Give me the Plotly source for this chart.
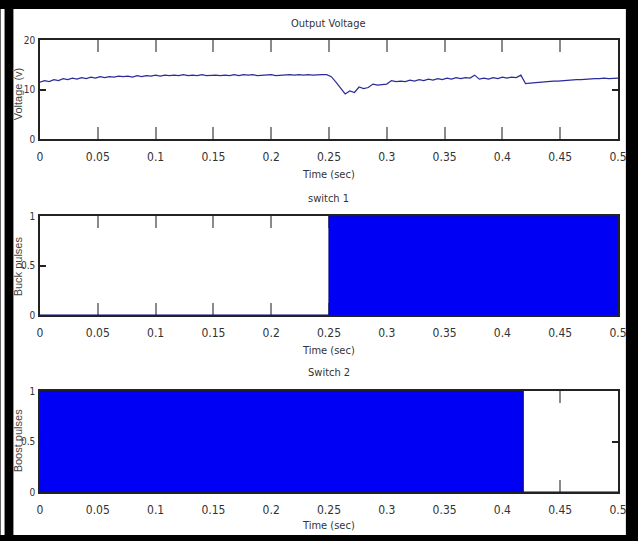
import plotly.graph_objects as go

# ---------------- data ----------------
time_step = 0.004  # s, sample spacing of the voltage trace
voltage = [
    11.5, 11.8, 11.6, 12.0, 11.8, 12.2, 12.0, 12.3, 12.1, 12.4,
    12.2, 12.5, 12.3, 12.6, 12.4, 12.6, 12.5, 12.7, 12.6, 12.7,
    12.5, 12.8, 12.6, 12.8, 12.7, 12.9, 12.7, 12.9, 12.8, 12.9,
    12.8, 13.0, 12.8, 12.9, 12.8, 13.0, 12.8, 12.9, 12.9, 12.8,
    12.9, 12.8, 13.0, 12.8, 13.0, 12.9, 13.0, 12.8, 12.9, 12.9,
    13.0, 12.8, 12.9, 12.9, 13.0, 12.9, 13.0, 12.9, 13.0, 12.9,
    13.0, 13.0, 13.0, 12.6, 11.5, 10.3, 9.1, 9.7, 9.4, 10.5,
    10.2, 10.4, 11.1, 10.9, 11.0, 11.1, 11.8, 11.6, 11.7, 11.6,
    11.9, 11.7, 12.0, 11.8, 12.1, 11.9, 12.2, 12.0, 12.3, 12.1,
    12.4, 12.2, 12.4, 12.3, 12.9, 12.1, 12.3, 12.1, 12.4, 12.2,
    12.5, 12.3, 12.5, 12.4, 12.9, 11.2, 11.3, 11.4, 11.5, 11.5,
    11.6, 11.7, 11.7, 11.8, 11.9, 11.9, 12.0, 12.0, 12.1, 12.1,
    12.2, 12.2, 12.3, 12.2, 12.3, 12.3,
]
time = [round(i * time_step, 3) for i in range(len(voltage))]

# switching envelopes (PWM region drawn as solid band)
buck_time = [0.0, 0.25, 0.25, 0.5]
buck_pulse = [0, 0, 1, 1]
boost_time = [0.0, 0.418, 0.418, 0.5]
boost_pulse = [1, 1, 0, 0]

x_ticks = [0, 0.05, 0.1, 0.15, 0.2, 0.25, 0.3, 0.35, 0.4, 0.45, 0.5]
x_tick_text = ["0", "0.05", "0.1", "0.15", "0.2", "0.25", "0.3", "0.35", "0.4", "0.45", "0.5"]
v_ticks = [0, 10, 20]
p_ticks = [0, 0.5, 1]
p_tick_text = ["0", "0.5", "1"]

titles = ["Output Voltage", "switch 1", "Switch 2"]
y_titles = ["Voltage (v)", "Buck pulses", "Boost pulses"]
x_title = "Time (sec)"

# ---------------- layout helpers ----------------
W, H = 638, 541
L, R, T, B = 40, 11, 40, 49
PW, PH = W - L - R, H - T - B


def px(x):
    return (x - L) / PW


def py(y):
    return (H - B - y) / PH


NARROW = ("Noto Sans ExtraCondensed, Noto Sans Condensed, Liberation Sans Narrow, "
          "DejaVu Sans Condensed, sans-serif")
SANS = "Liberation Sans, Arial, sans-serif"

fig = go.Figure()
fig.add_trace(go.Scatter(x=time, y=voltage, mode="lines",
                         line=dict(color="#2b2b9a", width=1.2),
                         xaxis="x", yaxis="y", showlegend=False))
fig.add_trace(go.Scatter(x=buck_time, y=buck_pulse, mode="lines", fill="tozeroy",
                         fillcolor="#0000f5", line=dict(color="#0a0a80", width=1.2),
                         xaxis="x2", yaxis="y2", showlegend=False))
fig.add_trace(go.Scatter(x=boost_time, y=boost_pulse, mode="lines", fill="tozeroy",
                         fillcolor="#0000f5", line=dict(color="#0a0a80", width=1.2),
                         xaxis="x3", yaxis="y3", showlegend=False))

domains = [(py(139), py(40)), (py(315), py(216)), (py(492), py(391))]

xcommon = dict(range=[0, 0.5], tickvals=x_ticks, ticktext=x_tick_text,
               ticks="inside", ticklen=12, tickwidth=1.5, tickcolor="#8a8a8a",
               showline=True, linecolor="#222", linewidth=1.5, mirror="allticks",
               showgrid=False, zeroline=False, ticklabelstandoff=6,
               tickfont=dict(family=NARROW, size=12, color="#333"),
               domain=[0, 1])
ycommon = dict(ticks="inside", ticklen=6, tickwidth=1.5, tickcolor="#222",
               showline=True, linecolor="#222", linewidth=1.5, mirror="allticks",
               showgrid=False, zeroline=False, ticklabelstandoff=1,
               tickfont=dict(family=NARROW, size=10, color="#333"))

fig.update_layout(
    width=W, height=H, autosize=False,
    margin=dict(l=L, r=R, t=T, b=B),
    paper_bgcolor="black", plot_bgcolor="white",
    xaxis=dict(**xcommon, anchor="y"),
    yaxis=dict(**ycommon, range=[0, 20], tickvals=v_ticks, domain=list(domains[0]), anchor="x"),
    xaxis2=dict(**xcommon, anchor="y2", layer="below traces"),
    yaxis2=dict(**ycommon, range=[0, 1], tickvals=p_ticks, ticktext=p_tick_text,
                domain=list(domains[1]), anchor="x2", layer="below traces"),
    xaxis3=dict(**xcommon, anchor="y3", layer="below traces"),
    yaxis3=dict(**ycommon, range=[0, 1], tickvals=p_ticks, ticktext=p_tick_text,
                domain=list(domains[2]), anchor="x3", layer="below traces"),
)

ann = []
for title, ty in zip(titles, [24, 198, 372]):
    ann.append(dict(text=title, x=px(333), y=py(ty), xref="paper", yref="paper",
                    showarrow=False, xanchor="center", yanchor="middle",
                    font=dict(family=NARROW, size=11, color="#333")))
for ty in [174, 350, 525]:
    ann.append(dict(text=x_title, x=px(333), y=py(ty), xref="paper", yref="paper",
                    showarrow=False, xanchor="center", yanchor="middle",
                    font=dict(family=NARROW, size=11, color="#333")))
for yt, ty in zip(y_titles, [94, 266, 441]):
    ann.append(dict(text=yt, x=px(18), y=py(ty), xref="paper", yref="paper",
                    showarrow=False, xanchor="center", yanchor="middle", textangle=-90,
                    font=dict(family=SANS, size=11, color="#444")))
fig.update_layout(annotations=ann)

# white page inside the black frame (frame = paper background)
fig.add_shape(type="rect", xref="paper", yref="paper",
              x0=px(13), x1=px(635), y0=py(535), y1=py(9),
              fillcolor="white", line=dict(width=0), layer="below")
# thin white strip left of the frame
fig.add_shape(type="rect", xref="paper", yref="paper",
              x0=px(0), x1=px(4), y0=py(535), y1=py(9),
              fillcolor="white", line=dict(width=0), layer="below")

fig.write_html("out.html",
               config={"displayModeBar": False},
               post_script="document.body.style.margin='0';document.body.style.overflow='hidden';")
